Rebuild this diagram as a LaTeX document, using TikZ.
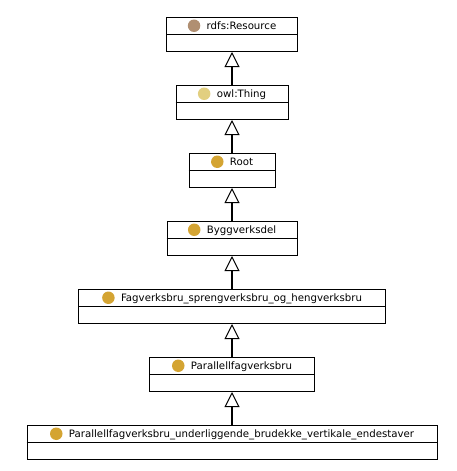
\documentclass[tikz,border=0pt]{standalone}
\usepackage{fontspec}
\setmainfont{DejaVu Sans}
\usetikzlibrary{arrows.meta,calc}
\definecolor{resc}{RGB}{176,143,114}
\definecolor{thingc}{RGB}{226,207,128}
\definecolor{classc}{RGB}{212,164,50}
\begin{document}
\begin{tikzpicture}[x=1pt,y=-1pt,
  classbox/.style={draw, line width=1pt, minimum height=34pt, inner sep=0pt, anchor=north},
  divider/.style={line width=1pt},
  lbl/.style={font=\fontsize{10.2}{12}\selectfont, inner sep=0pt, text height=0.73em, text depth=0pt, anchor=center},
  dot/.style={circle, inner sep=0pt, minimum size=12.5pt, anchor=east},
  isa/.style={line width=2pt, -{Triangle[open, length=15pt, width=15pt, line width=1pt 0]}}]
\useasboundingbox (0,0) rectangle (457,471);
\fill[white] (0,0) rectangle (457,471);

\newcommand\mkclass[6]{%
  \node[classbox, minimum width=#3] (b#1) at (232,#2) {};
  \draw[divider] ($(b#1.north west)+(0,17.5)$) -- ($(b#1.north east)+(0,17.5)$);
  \node[lbl] (t#1) at ($(b#1.north)+(9.5,8.75)$) {#4};
  \node[dot, fill=#5] (d#1) at ($(t#1.west)+(-6,0)$) {};
}
\mkclass{1}{17}{131pt}{rdfs:Resource}{resc}{}
\mkclass{2}{85}{112pt}{owl:Thing}{thingc}{}
\mkclass{3}{153}{86pt}{Root}{classc}{}
\mkclass{4}{221}{130pt}{Byggverksdel}{classc}{}
\mkclass{5}{289}{307pt}{Fagverksbru\_sprengverksbru\_og\_hengverksbru}{classc}{}
\mkclass{6}{357}{165pt}{Parallellfagverksbru}{classc}{}
\mkclass{7}{425}{410pt}{Parallellfagverksbru\_underliggende\_brudekke\_vertikale\_endestaver}{classc}{}

\draw[isa] (b2.north) -- (b1.south);
\draw[isa] (b3.north) -- (b2.south);
\draw[isa] (b4.north) -- (b3.south);
\draw[isa] (b5.north) -- (b4.south);
\draw[isa] (b6.north) -- (b5.south);
\draw[isa] (b7.north) -- (b6.south);
\end{tikzpicture}
\end{document}
